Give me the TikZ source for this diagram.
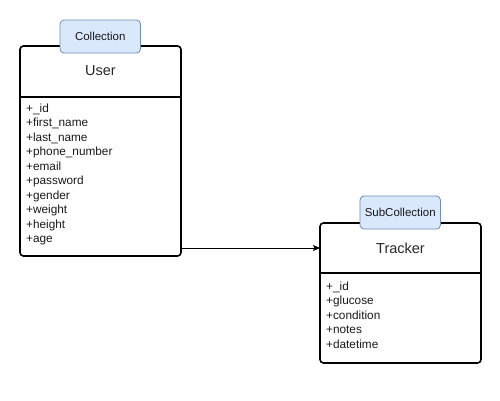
\documentclass[tikz,border=0pt]{standalone}
\usepackage{fontspec}
\setmainfont{Liberation Sans}
\usetikzlibrary{arrows.meta}
\definecolor{tabfill}{HTML}{DAE8FC}
\definecolor{tabdraw}{HTML}{6C8EBF}
\begin{document}
\begin{tikzpicture}[x=1pt,y=-1pt,
  entity/.style={draw=black, line width=1.6pt, rounded corners=3.5pt},
  divider/.style={draw=black, line width=1.6pt},
  tab/.style={draw=tabdraw, fill=tabfill, line width=0.8pt, rounded corners=4pt},
  title/.style={font=\fontsize{14.5}{16}\selectfont, text=black!85},
  tabtext/.style={font=\fontsize{11.5}{13}\selectfont, text=black!90},
  field/.style={font=\fontsize{11.8}{13}\selectfont, anchor=west, inner sep=0pt, text height=8.5pt, text depth=2.5pt, text=black!90},
  conn/.style={draw=black, line width=0.8pt, -{Stealth[length=7pt,width=6pt,inset=1.5pt]}}]
\useasboundingbox (0,0) rectangle (500,400);
% User
\draw[entity] (20,46) rectangle (181,256);
\draw[divider] (20,97) -- (181,97);
\node[title] (user) at (100.5,71) {User};
\draw[tab] (60,20) rectangle (140.5,53);
\node[tabtext] (coll) at (100.25,36.5) {Collection};
\foreach \t [count=\i from 0] in {+\_id,+first\_name,+last\_name,+phone\_number,+email,+password,+gender,+weight,+height,+age}{
  \node[field] (uf\i) at (26,109+14.5*\i) {\t};
}
% Tracker
\draw[entity] (320,223) rectangle (481,363);
\draw[divider] (320,273) -- (481,273);
\node[title] (tracker) at (400.5,248) {Tracker};
\draw[tab] (360,196) rectangle (440.5,229);
\node[tabtext] (sub) at (400.25,212.5) {SubCollection};
\foreach \t [count=\i from 0] in {+\_id,+glucose,+condition,+notes,+datetime}{
  \node[field] (tf\i) at (326,287+14.5*\i) {\t};
}
\coordinate (ua) at (181,248);
\coordinate (tb) at (320,248);
\draw[conn] (ua) -- (tb);
\end{tikzpicture}
\end{document}
